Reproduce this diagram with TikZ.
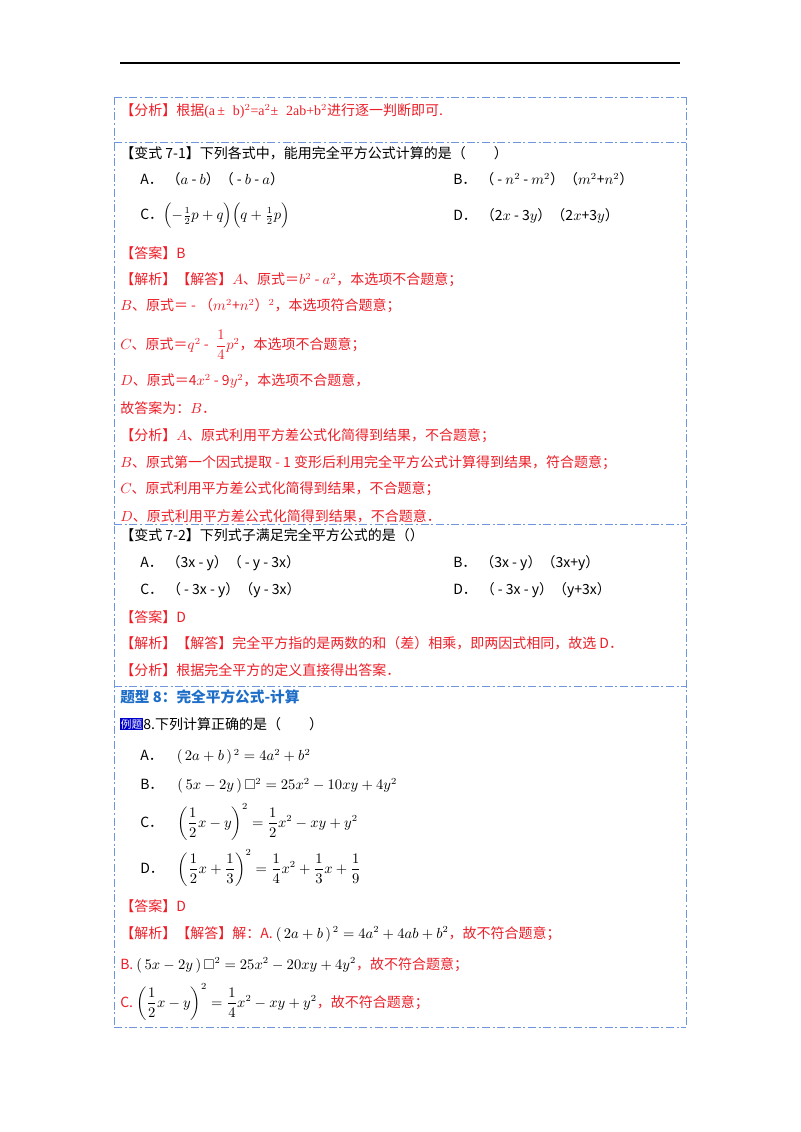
\documentclass[tikz,border=0pt]{standalone}
\usepackage{amsmath,amssymb}
\usepackage{fontspec}
\setmainfont{Noto Sans CJK SC}
\newfontfamily\lat{Liberation Serif}
\definecolor{rd}{RGB}{235,30,40}
\definecolor{bx}{RGB}{110,150,220}
\definecolor{tb}{RGB}{30,110,200}
\begin{document}
\begin{tikzpicture}[x=0.75pt,y=-0.75pt,
  t/.style={anchor=west,inner sep=0,font=\fontsize{10.5}{12}\selectfont},
  r/.style={t,text=rd},
  dd/.style={draw=bx,line width=0.7pt,dash pattern=on 6pt off 2pt on 1.5pt off 2pt}]
\useasboundingbox (0,0) rectangle (800,1132);
\draw[line width=0.8pt] (120,63) -- (680,63);
\foreach \y in {97,142,524,686,1027} \draw[dd] (114,\y) -- (686,\y);
\draw[dd] (114,97) -- (114,1027);
\draw[dd] (686,97) -- (686,1027);
\node[r] (n1) at (120,111) {【分析】根据{\lat(a\,±\;\;b)$^2$=a$^2$±\;\;2ab+b$^2$}进行逐一判断即可.};
\node[t] (n2) at (120,153) {【变式 7-1】下列各式中，能用完全平方公式计算的是（\qquad）};
\node[t] (a1) at (140,179) {A．\;（$a$ - $b$）（ - $b$ - $a$）};
\node[t] (b1) at (453,179) {B．\;（ - $n^2$ - $m^2$）（$m^2$+$n^2$）};
\node[t] (c1) at (140,216) {C．$\Bigl(-\tfrac12p+q\Bigr)\Bigl(q+\tfrac12p\Bigr)$};
\node[t] (d1) at (453,216) {D．\;（2$x$ - 3$y$）（2$x$+3$y$）};
\node[r] (n3) at (120,253) {【答案】B};
\node[r] (n4) at (120,280) {【解析】【解答】$A$、原式＝$b^2$ - $a^2$，本选项不合题意；};
\node[r] (n5) at (120,306) {$B$、原式＝ - （$m^2$+$n^2$）$^2$，本选项符合题意；};
\node[r] (n6) at (120,345) {$C$、原式＝$q^2$ -\; $\dfrac14p^2$，本选项不合题意；};
\node[r] (n7) at (120,381) {$D$、原式＝4$x^2$ - 9$y^2$，本选项不合题意，};
\node[r] (n8) at (120,408) {故答案为：$B$．};
\node[r] (n9) at (120,436) {【分析】$A$、原式利用平方差公式化简得到结果，不合题意；};
\node[r] (n10) at (120,463) {$B$、原式第一个因式提取 - 1 变形后利用完全平方公式计算得到结果，符合题意；};
\node[r] (n11) at (120,489) {$C$、原式利用平方差公式化简得到结果，不合题意；};
\node[r] (n12) at (120,516) {$D$、原式利用平方差公式化简得到结果，不合题意．};
\node[t] (n13) at (120,535) {【变式 7-2】下列式子满足完全平方公式的是（）};
\node[t] (a2) at (140,563) {A．\;（3x - y）（ - y - 3x）};
\node[t] (b2) at (453,563) {B．\;（3x - y）（3x+y）};
\node[t] (c2) at (140,590) {C．\;（ - 3x - y）（y - 3x）};
\node[t] (d2) at (453,590) {D．\;（ - 3x - y）（y+3x）};
\node[r] (n14) at (120,617) {【答案】D};
\node[r] (n15) at (120,643) {【解析】【解答】完全平方指的是两数的和（差）相乘，即两因式相同，故选 D．};
\node[r] (n16) at (120,670) {【分析】根据完全平方的定义直接得出答案．};
\node[t,text=tb,font=\fontsize{11}{12}\selectfont\bfseries] (h) at (120,697) {题型 8：完全平方公式-计算};
\node[t,fill=blue!80!black,text=white,font=\fontsize{8}{9}\selectfont,inner sep=0.5pt] (lt) at (120,724) {例题};
\node[t] (q) at (lt.east) {8.下列计算正确的是（\qquad）};
\node[t] (a3) at (140,757) {A．\quad $(\,2a+b\,)^{\,2}=4a^2+b^2$};
\node[t] (b3) at (140,786) {B．\quad $(\,5x-2y\,)\,\square^2=25x^2-10xy+4y^2$};
\node[t] (c3) at (140,822) {C．\quad $\left(\dfrac12x-y\right)^{2}=\dfrac12x^2-xy+y^2$};
\node[t] (d3) at (140,868) {D．\quad $\left(\dfrac12x+\dfrac13\right)^{2}=\dfrac14x^2+\dfrac13x+\dfrac19$};
\node[r] (n17) at (120,906) {【答案】D};
\node[r] (n18) at (120,934) {【解析】【解答】解：A. \textcolor{black}{$(\,2a+b\,)^{\,2}=4a^2+4ab+b^2$}，故不符合题意；};
\node[r] (n19) at (120,965) {B. \textcolor{black}{$(\,5x-2y\,)\,\square^2=25x^2-20xy+4y^2$}，故不符合题意；};
\node[r] (n20) at (120,1002) {C. \textcolor{black}{$\left(\dfrac12x-y\right)^{2}=\dfrac14x^2-xy+y^2$}，故不符合题意；};
\end{tikzpicture}
\end{document}
